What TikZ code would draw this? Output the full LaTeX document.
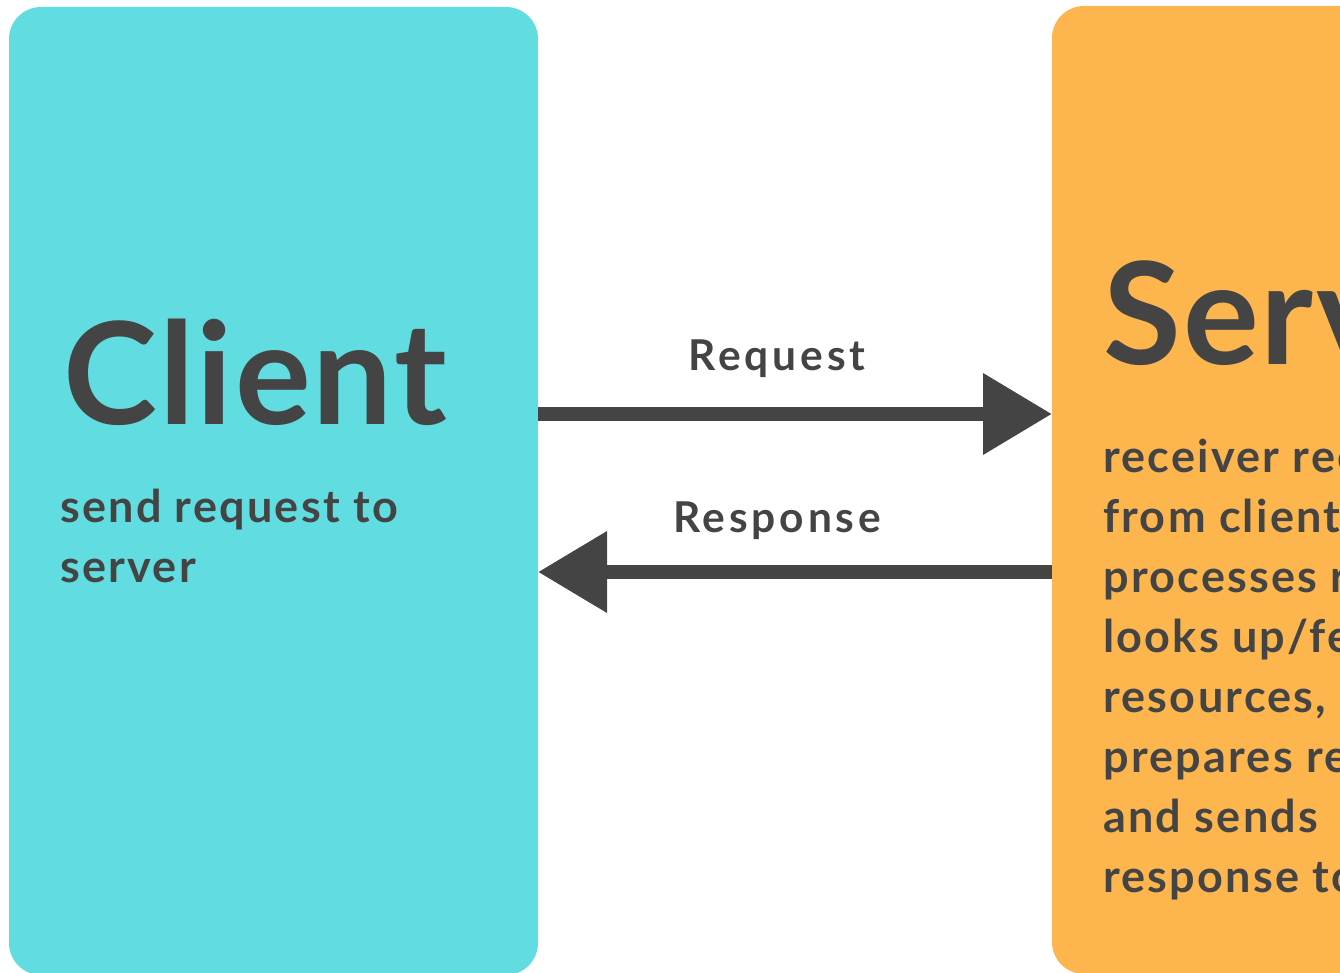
\documentclass[tikz,border=0pt]{standalone}
\usepackage{fontspec}
\setmainfont{Lato}
\newfontfamily\titlefont[LetterSpace=1.5]{Lato}
\newfontfamily\bodyfont[LetterSpace=5]{Lato}
\newfontfamily\lblfont[LetterSpace=9]{Lato}
\usetikzlibrary{arrows.meta}
\definecolor{cyanbox}{HTML}{61DDE1}
\definecolor{orangebox}{HTML}{FDB64E}
\definecolor{ink}{HTML}{444444}
\tikzset{
  panel/.style={rounded corners=32pt, inner sep=0pt, outer sep=0pt, draw=none, anchor=north west},
  title/.style={anchor=base west, inner sep=0pt, text=ink, font=\titlefont\fontsize{142}{142}\selectfont\bfseries},
  body/.style={anchor=base west, inner sep=0pt, text=ink, font=\bodyfont\fontsize{45}{60}\selectfont\bfseries},
  lbl/.style={anchor=base, inner sep=0pt, text=ink, font=\lblfont\fontsize{42.5}{50}\selectfont\bfseries},
  arr/.style={draw=ink, line width=14pt, -{Triangle[length=69pt,width=78pt]}}
}
\begin{document}
\begin{tikzpicture}[x=1pt,y=-1pt]
\useasboundingbox (0,0) rectangle (1340,973);
\clip (0,0) rectangle (1340,973);
\node[panel, fill=cyanbox, minimum width=529pt, minimum height=968pt] (client) at (9,7) {};
\node[panel, fill=orangebox, minimum width=600pt, minimum height=968pt] (server) at (1052,6) {};
\node[title] (ctitle) at (63,424) {Client};
\node[body] (c1) at (60,522) {send request to};
\node[body] (c2) at (60,582) {server};
\node[title] (stitle) at (1103,364) {Server};
\node[body] (s1) at (1103,472) {receiver receives request};
\node[body] (s2) at (1103,532) {from client,};
\node[body] (s3) at (1103,592) {processes request,};
\node[body] (s4) at (1103,652) {looks up/fetches};
\node[body] (s5) at (1103,712) {resources,};
\node[body] (s6) at (1103,772) {prepares response};
\node[body] (s7) at (1103,832) {and sends};
\node[body] (s8) at (1103,892) {response to client};
\draw[arr] (client.east |- 0,414) -- (server.west |- 0,414);
\draw[arr] (server.west |- 0,572) -- (client.east |- 0,572);
\node[lbl] (req) at (777,370) {Request};
\node[lbl] (resp) at (777,532) {Response};
\end{tikzpicture}
\end{document}
